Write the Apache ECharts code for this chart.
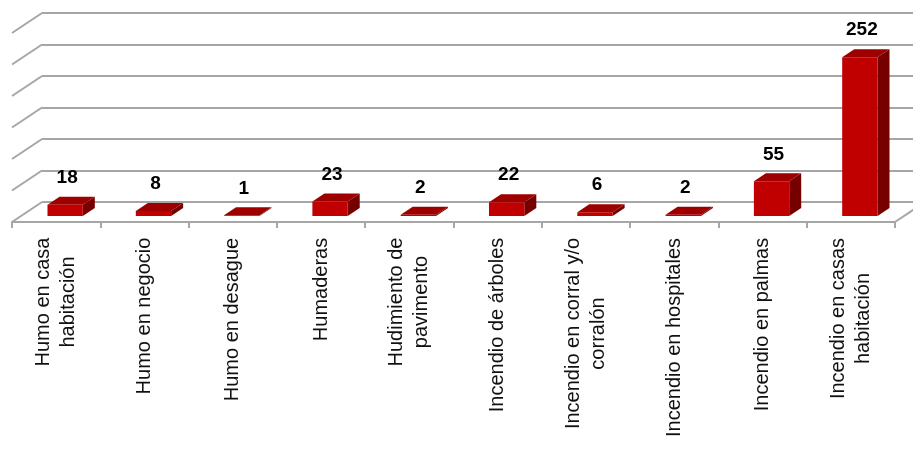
<!DOCTYPE html>
<html>
<head>
<meta charset="utf-8">
<script src="https://cdn.jsdelivr.net/npm/echarts@6/dist/echarts.min.js"></script>
<style>
html,body{margin:0;padding:0;background:#fff;}
#chart{width:913px;height:450px;}
</style>
</head>
<body>
<div id="chart"></div>
<script>
const categories = [
  'Humo en casa\nhabitación',
  'Humo en negocio',
  'Humo en desague',
  'Humaderas',
  'Hudimiento de\npavimento',
  'Incendio de árboles',
  'Incendio en corral y/o\ncorralón',
  'Incendio en hospitales',
  'Incendio en palmas',
  'Incendio en casas\nhabitación'
];
const values = [18, 8, 1, 23, 2, 22, 6, 2, 55, 252];
const yTicks = [0, 50, 100, 150, 200, 250, 300];

const DX = 30, DY = 20;          // wall depth offset (px)
const GRID_COLOR = '#a6a6a6';
const LABEL_FONT = '"Liberation Sans", Arial, sans-serif';
const LABEL_SIZE = 20;

// measure lines to center multi-line labels within their block
const ctx = document.createElement('canvas').getContext('2d');
ctx.font = LABEL_SIZE + 'px ' + LABEL_FONT;
const rich = {};
categories.forEach((c, i) => {
  const w = Math.max(...c.split('\n').map(l => ctx.measureText(l).width));
  rich['c' + i] = {width: Math.ceil(w) + 1, align: 'center', fontSize: LABEL_SIZE,
    fontFamily: LABEL_FONT, lineHeight: 25, color: '#111'};
});

const chart = echarts.init(document.getElementById('chart'), null, {renderer: 'canvas'});
chart.setOption({
  animation: false,
  backgroundColor: '#fff',
  grid: [
    {left: 42, top: 13, right: 0, height: 189},
    {left: 12, top: 33, width: 883, height: 189}
  ],
  xAxis: [
    {gridIndex: 0, type: 'category', data: categories, show: false},
    {gridIndex: 1, type: 'category', data: categories,
      axisLine: {lineStyle: {color: GRID_COLOR, width: 2}},
      axisTick: {show: true, length: 6, lineStyle: {color: GRID_COLOR, width: 2}},
      axisLabel: {interval: 0, rotate: 90, margin: 15,
        formatter: (val, idx) => val.split('\n').map(l => '{c' + idx + '|' + l + '}').join('\n'),
        rich: rich}
    }
  ],
  yAxis: [
    {gridIndex: 0, type: 'value', min: 0, max: 300, interval: 50,
      axisLabel: {show: false}, axisLine: {show: false}, axisTick: {show: false},
      splitLine: {show: true, lineStyle: {color: GRID_COLOR, width: 2}}},
    {gridIndex: 1, type: 'value', min: 0, max: 300, interval: 50, show: false,
      splitLine: {show: false}}
  ],
  series: [
    {
      type: 'custom', xAxisIndex: 1, yAxisIndex: 1, z: 1, silent: true,
      data: yTicks.map(t => [0, t]),
      renderItem: function (params, api) {
        const y = api.coord([0, api.value(1)])[1];
        const x0 = params.coordSys.x;
        const children = [{
          type: 'line',
          shape: {x1: x0, y1: y, x2: x0 + DX, y2: y - DY},
          style: {stroke: GRID_COLOR, lineWidth: 2}
        }];
        if (api.value(1) === 0) {
          const xr = params.coordSys.x + params.coordSys.width;
          children.push({
            type: 'line',
            shape: {x1: xr, y1: y, x2: xr + DX, y2: y - DY},
            style: {stroke: GRID_COLOR, lineWidth: 2}
          });
        }
        return {type: 'group', children: children};
      }
    },
    {
      type: 'custom', xAxisIndex: 1, yAxisIndex: 1, z: 5, silent: true,
      data: values.map((v, i) => [i, v]),
      renderItem: function (params, api) {
        const i = api.value(0), v = api.value(1);
        const base = api.coord([i, 0]);
        const top = api.coord([i, v]);
        const bw = api.size([1, 0])[0] * 0.4;
        const fx = base[0] + 0.3 * DX;
        const fyB = base[1] - 0.3 * DY;
        const fyT = top[1] - 0.3 * DY;
        const ox = 0.4 * DX, oy = -0.4 * DY;
        const l = fx - bw / 2, r = fx + bw / 2;
        return {
          type: 'group',
          children: [
            {type: 'polygon', shape: {points: [[r, fyT], [r + ox, fyT + oy], [r + ox, fyB + oy], [r, fyB]]},
              style: {fill: '#760000'}},
            {type: 'polygon', shape: {points: [[l, fyT], [r, fyT], [r + ox, fyT + oy], [l + ox, fyT + oy]]},
              style: {fill: '#9e0000'}},
            {type: 'rect', shape: {x: l, y: fyT, width: bw, height: fyB - fyT},
              style: {fill: '#c00000'}},
            {type: 'text', style: {text: String(v), x: fx + 2, y: fyT + oy - 19,
              align: 'center', verticalAlign: 'middle',
              font: 'bold 19px "Liberation Sans", Arial, sans-serif', fill: '#000'}}
          ]
        };
      }
    }
  ]
});
</script>
</body>
</html>
